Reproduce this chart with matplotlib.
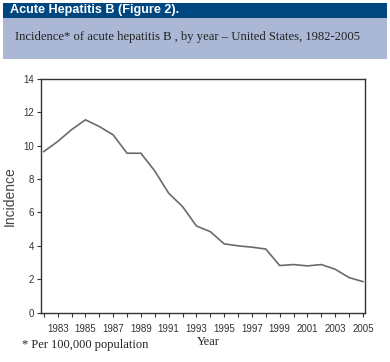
import matplotlib
matplotlib.use("Agg")
import matplotlib.pyplot as plt
from matplotlib.patches import Rectangle
import numpy as np

years = list(range(1982, 2006))
incidence = [9.64, 10.24, 10.95, 11.54, 11.14, 10.64, 9.54, 9.54, 8.48, 7.15,
             6.35, 5.19, 4.85, 4.12, 4.0, 3.92, 3.81, 2.82, 2.88, 2.8,
             2.88, 2.6, 2.1, 1.86]
major_ticks = list(range(1983, 2006, 2))
y_ticks = [0, 2, 4, 6, 8, 10, 12, 14]

W, H = 390, 362
fig = plt.figure(figsize=(W / 100, H / 100), dpi=100)
fig.patch.set_facecolor("white")

def fx(px):
    return px / W

def fy(py):
    return 1 - py / H

# banners
fig.patches.append(Rectangle((fx(3), fy(18)), fx(384), 15 / H, transform=fig.transFigure,
                             facecolor="#00477f", edgecolor="none", zorder=0))
fig.patches.append(Rectangle((fx(3), fy(59)), fx(384), 41 / H, transform=fig.transFigure,
                             facecolor="#aab7d5", edgecolor="none", zorder=0))
fig.text(fx(10), fy(10.5), "Acute Hepatitis B (Figure 2).", color="white",
         fontsize=9.1, fontweight="bold", family="Liberation Sans", va="center", ha="left")
fig.text(fx(15), fy(37), "Incidence* of acute hepatitis B , by year \u2013 United States, 1982-2005",
         color="#222222", fontsize=9.1, family="Liberation Serif", va="center", ha="left")

ax = fig.add_axes([fx(41), fy(312.7), fx(365 - 41), (312.7 - 78.7) / H])
ax.plot(years, incidence, color="#6a6a6a", lw=1.2)
ax.set_xlim(1981.8, 2005.15)
ax.set_ylim(0, 14)
ax.set_xticks(major_ticks)
ax.set_xticks(years, minor=True)
ax.set_yticks(y_ticks)
for s in ax.spines.values():
    s.set_color("#333333")
    s.set_linewidth(1.0)
ax.tick_params(axis="both", which="both", direction="out", color="#333333",
               labelcolor="#333333", labelsize=7, width=0.8)
ax.tick_params(axis="x", which="major", length=3, pad=5)
ax.tick_params(axis="x", which="minor", length=3)
ax.tick_params(axis="y", length=3, pad=2)
for lab in ax.get_xticklabels() + ax.get_yticklabels():
    lab.set_family("Liberation Sans")

fig.text(fx(10), fy(196), "Incidence", rotation=90, fontsize=10, color="#444444",
         family="Liberation Sans", va="center", ha="center")
fig.text(fx(208), fy(342), "Year", fontsize=9, color="#222222",
         family="Liberation Serif", va="center", ha="center")
fig.text(fx(22), fy(345), "* Per 100,000 population", fontsize=9, color="#222222",
         family="Liberation Serif", va="center", ha="left")

fig.savefig("out.png", dpi=100)
